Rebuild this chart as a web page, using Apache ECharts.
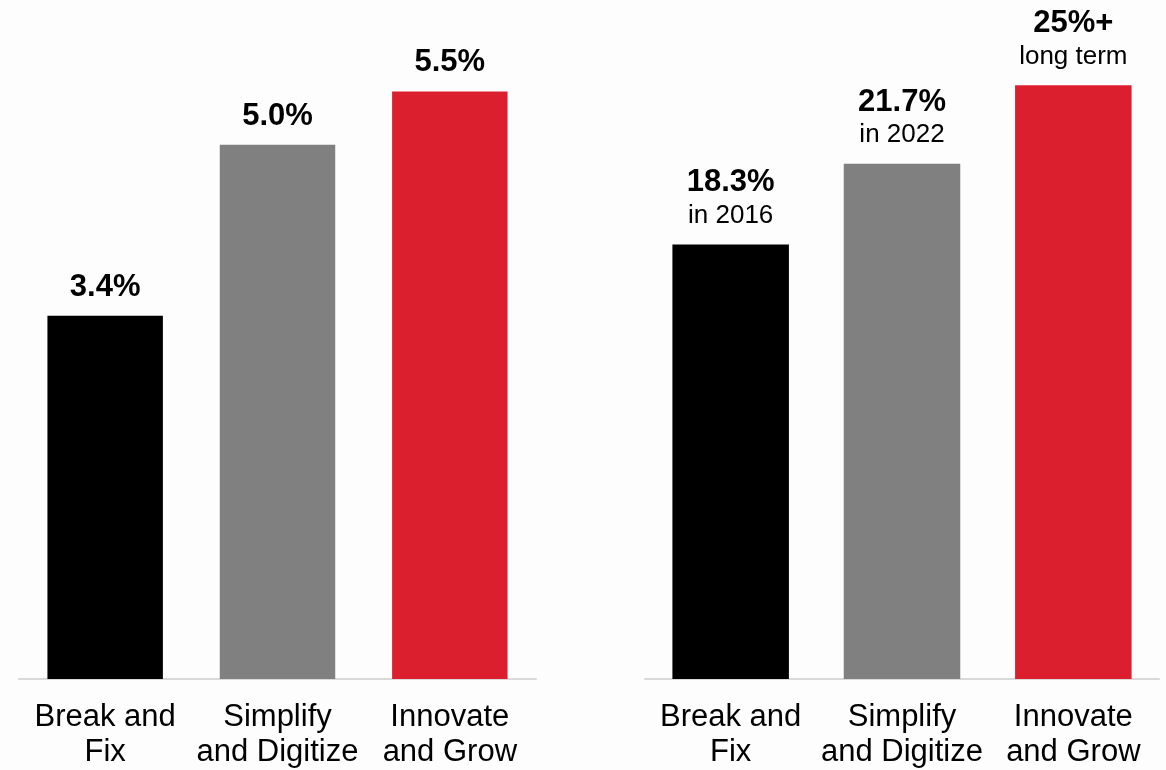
<!DOCTYPE html>
<html>
<head>
<meta charset="utf-8">
<script src="https://cdn.jsdelivr.net/npm/echarts@6/dist/echarts.min.js"></script>
<style>
  html, body { margin: 0; padding: 0; background: #fdfdfd; }
  #chart { width: 1166px; height: 770px; }
</style>
</head>
<body>
<div id="chart"></div>
<script>
// Category names shared by both panels
const categories = ['Break and\nFix', 'Simplify\nand Digitize', 'Innovate\nand Grow'];
// Left panel values (%)
const leftValues = [3.4, 5.0, 5.5];
// Right panel values (%) with headline and note text
const rightValues = [18.3, 21.7, 25];
const rightHeadlines = ['18.3%', '21.7%', '25%+'];
const rightNotes = ['in 2016', 'in 2022', 'long term'];
// One colour per category
const barColors = ['#000000', '#808080', '#dc1f2e'];

const FONT = '"Liberation Sans", Arial, Helvetica, sans-serif';

const chart = echarts.init(document.getElementById('chart'), null, { renderer: 'canvas' });

function xAxisFor(gridIndex) {
  return {
    type: 'category',
    gridIndex: gridIndex,
    data: categories,
    axisTick: { show: false },
    axisLine: { show: true, lineStyle: { color: '#d9d9d9', width: 2 } },
    axisLabel: {
      interval: 0,
      margin: 21,
      color: '#000',
      fontFamily: FONT,
      fontSize: 31,
      lineHeight: 35
    }
  };
}

function yAxisFor(gridIndex, max) {
  return {
    type: 'value',
    gridIndex: gridIndex,
    min: 0,
    max: max,
    show: false,
    splitLine: { show: false }
  };
}

chart.setOption({
  backgroundColor: '#fdfdfd',
  animation: false,
  grid: [
    { left: 19, right: 630, top: 38, bottom: 90 },
    { left: 645, right: 7, top: 14, bottom: 90 }
  ],
  xAxis: [xAxisFor(0), xAxisFor(1)],
  yAxis: [yAxisFor(0, 6), yAxisFor(1, 28)],
  series: [
    {
      type: 'bar',
      xAxisIndex: 0,
      yAxisIndex: 0,
      barCategoryGap: '33%',
      data: leftValues.map((v, i) => ({ value: v, itemStyle: { color: barColors[i] } })),
      label: {
        show: true,
        position: 'top',
        distance: 12,
        color: '#000',
        fontFamily: FONT,
        fontWeight: 'bold',
        fontSize: 31,
        lineHeight: 33,
        formatter: p => p.value.toFixed(1) + '%'
      }
    },
    {
      type: 'bar',
      xAxisIndex: 1,
      yAxisIndex: 1,
      barCategoryGap: '32%',
      data: rightValues.map((v, i) => ({ value: v, itemStyle: { color: barColors[i] } })),
      label: {
        show: true,
        position: 'top',
        distance: 12,
        formatter: p => '{h|' + rightHeadlines[p.dataIndex] + '}\n{n|' + rightNotes[p.dataIndex] + '}',
        rich: {
          h: { color: '#000', fontFamily: FONT, fontWeight: 'bold', fontSize: 31, lineHeight: 33, align: 'center' },
          n: { color: '#000', fontFamily: FONT, fontSize: 26, lineHeight: 33, align: 'center' }
        }
      }
    }
  ]
});
</script>
</body>
</html>
